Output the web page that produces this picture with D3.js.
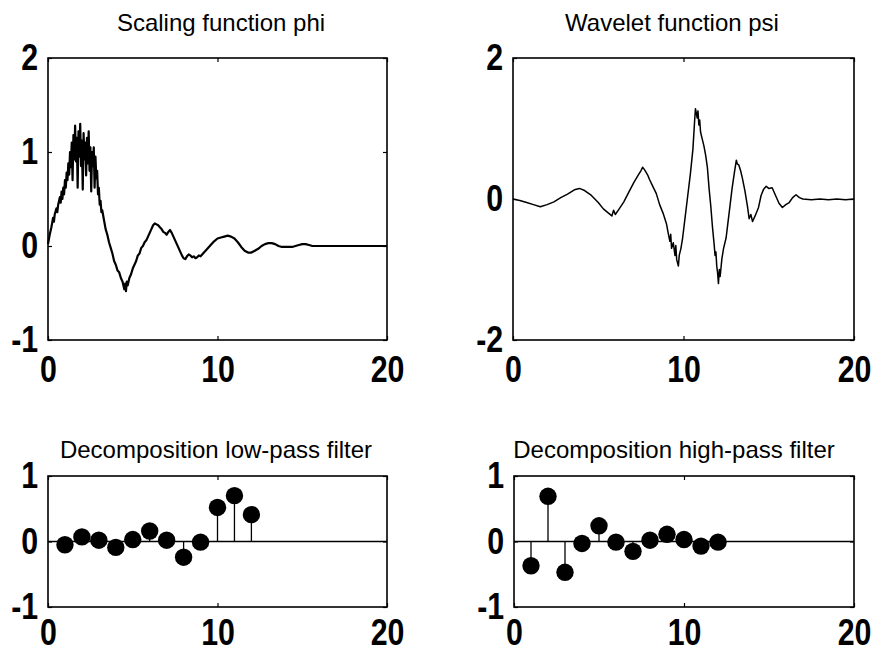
<!DOCTYPE html>
<html>
<head>
<meta charset="utf-8">
<script src="https://cdn.jsdelivr.net/npm/d3@7"></script>
<style>
  body { margin: 0; background: #fff; }
  .title { font-family: "Liberation Sans", Arial, sans-serif; font-size: 24px; fill: #000; }
  .lbl text { font-family: "Liberation Sans", Arial, sans-serif; font-weight: bold; font-size: 37px; fill: #000; }
  .tick line { stroke: #000; stroke-width: 1.2; }
</style>
</head>
<body>
<svg width="872" height="652"></svg>
<script>
// scaling function phi
const phiT = [0, 0.1, 0.2, 0.3, 0.35, 0.4, 0.5, 0.55, 0.6, 0.7, 0.75, 0.8, 0.85, 0.9, 0.95,
  1.0, 1.05, 1.1, 1.15, 1.2, 1.25, 1.3, 1.35, 1.4, 1.45, 1.5, 1.55, 1.6, 1.65, 1.7, 1.75,
  1.8, 1.85, 1.9, 1.95, 2.0, 2.05, 2.1, 2.15, 2.2, 2.25, 2.3, 2.35, 2.4, 2.45, 2.5, 2.55,
  2.6, 2.65, 2.7, 2.75, 2.8, 2.85, 2.9, 2.95, 3.0, 3.05, 3.1, 3.15, 3.2, 3.3, 3.4, 3.5,
  3.6, 3.7, 3.8, 3.9, 4.0, 4.1, 4.2, 4.3, 4.4, 4.5, 4.55, 4.6, 4.65, 4.7, 4.8, 4.9, 5.0,
  5.1, 5.2, 5.3, 5.4, 5.5, 5.6, 5.7, 5.8, 5.9, 6.0, 6.1, 6.2, 6.3, 6.4, 6.5, 6.6, 6.7,
  6.8, 6.9, 7.0, 7.1, 7.2, 7.3, 7.4, 7.5, 7.6, 7.7, 7.8, 7.9, 8.0, 8.1, 8.2, 8.3, 8.4,
  8.5, 8.6, 8.7, 8.8, 8.9, 9.0, 9.2, 9.4, 9.6, 9.8, 10.0, 10.2, 10.4, 10.6, 10.8, 11.0,
  11.2, 11.4, 11.6, 11.8, 12.0, 12.2, 12.4, 12.6, 12.8, 13.0, 13.2, 13.4, 13.6, 13.8,
  14.0, 14.4, 14.8, 15.0, 15.2, 15.4, 15.6, 16, 17, 18, 19, 20];
const phiV = [0.02, 0.12, 0.2, 0.3, 0.26, 0.34, 0.4, 0.36, 0.44, 0.52, 0.46, 0.58, 0.5, 0.62, 0.55,
  0.7, 0.62, 0.78, 0.7, 0.88, 0.76, 1.0, 0.84, 1.1, 0.7, 1.18, 0.92, 1.28, 0.9, 1.15, 0.62,
  1.22, 0.95, 1.3, 0.85, 1.12, 0.6, 1.2, 0.92, 1.1, 0.75, 1.15, 0.88, 1.22, 0.8, 1.05, 0.58,
  1.0, 0.85, 1.05, 0.62, 0.95, 0.72, 0.8, 0.55, 0.62, 0.44, 0.48, 0.36, 0.38, 0.28, 0.18, 0.12,
  0.04, -0.02, -0.08, -0.16, -0.2, -0.26, -0.28, -0.34, -0.38, -0.46, -0.4, -0.48, -0.38, -0.42, -0.34, -0.3, -0.24,
  -0.2, -0.16, -0.1, -0.08, -0.02, 0, 0.04, 0.06, 0.1, 0.14, 0.18, 0.22, 0.24, 0.23, 0.22, 0.2, 0.18,
  0.15, 0.14, 0.12, 0.15, 0.17, 0.14, 0.1, 0.06, 0.02, -0.02, -0.06, -0.1, -0.13, -0.14, -0.11, -0.09, -0.1,
  -0.12, -0.11, -0.13, -0.12, -0.1, -0.11, -0.07, -0.03, 0.01, 0.05, 0.08, 0.09, 0.1, 0.11, 0.1, 0.08,
  0.04, -0.01, -0.05, -0.07, -0.07, -0.05, -0.03, 0, 0.02, 0.03, 0.03, 0.02, 0, -0.01,
  -0.01, -0.01, 0.01, 0.02, 0.02, 0.01, 0, 0, 0, 0, 0, 0];

// wavelet function psi
const psiT = [0, 0.4, 0.8, 1.2, 1.6, 2.0, 2.4, 2.8, 3.2, 3.6, 3.9, 4.2, 4.6, 5.0, 5.3, 5.6, 5.8, 5.9,
  6.0, 6.2, 6.5, 6.8, 7.1, 7.3, 7.5, 7.6, 7.7, 7.8, 7.9, 8.0, 8.2, 8.4, 8.6, 8.8, 9.0, 9.1,
  9.2, 9.25, 9.3, 9.4, 9.5, 9.55, 9.6, 9.7, 9.75, 9.85, 9.95, 10.1, 10.25, 10.4, 10.55, 10.65,
  10.7, 10.75, 10.8, 10.85, 10.9, 10.95, 11.0, 11.1, 11.2, 11.3, 11.4, 11.5, 11.6, 11.7, 11.8,
  11.85, 11.9, 11.95, 12.0, 12.05, 12.1, 12.15, 12.25, 12.35, 12.5, 12.6, 12.7, 12.85, 13.0,
  13.1, 13.15, 13.25, 13.35, 13.45, 13.6, 13.75, 13.85, 13.95, 14.05, 14.2, 14.4, 14.55, 14.7,
  14.85, 15.0, 15.2, 15.4, 15.6, 15.8, 16.0, 16.2, 16.4, 16.6, 16.8, 17.0, 17.5, 18.0, 18.5,
  19.0, 19.5, 20];
const psiV = [0, -0.02, -0.05, -0.08, -0.11, -0.08, -0.04, 0.02, 0.07, 0.13, 0.15, 0.12, 0.05, -0.05, -0.14, -0.2, -0.24, -0.16,
  -0.22, -0.15, -0.04, 0.1, 0.24, 0.32, 0.4, 0.45, 0.42, 0.38, 0.34, 0.28, 0.18, 0.08, -0.08, -0.2, -0.35, -0.48,
  -0.6, -0.5, -0.7, -0.62, -0.8, -0.66, -0.86, -0.95, -0.8, -0.7, -0.55, -0.25, 0.05, 0.35, 0.7, 1.1,
  1.28, 1.22, 1.15, 1.25, 1.05, 1.12, 0.95, 0.85, 0.75, 0.62, 0.45, 0.15, -0.1, -0.4, -0.65,
  -0.8, -0.75, -0.95, -1.05, -1.2, -1.0, -1.1, -0.85, -0.7, -0.55, -0.35, -0.15, 0.15, 0.4,
  0.55, 0.5, 0.48, 0.4, 0.3, 0.12, -0.1, -0.28, -0.22, -0.32, -0.24, -0.12, 0.05, 0.14,
  0.18, 0.15, 0.16, 0.05, -0.06, -0.12, -0.08, -0.05, 0.02, 0.06, 0.02, 0, -0.01, 0, -0.01,
  0, -0.01, 0];

// decomposition filters
const lowN = [1, 2, 3, 4, 5, 6, 7, 8, 9, 10, 11, 12];
const lowV = [-0.05, 0.07, 0.02, -0.09, 0.03, 0.16, 0.02, -0.24, -0.01, 0.52, 0.70, 0.41];
const highN = [1, 2, 3, 4, 5, 6, 7, 8, 9, 10, 11, 12];
const highV = [-0.37, 0.69, -0.47, -0.03, 0.24, -0.01, -0.15, 0.02, 0.11, 0.03, -0.07, -0.01];

const xTicks = [0, 10, 20];
const titles = ['Scaling function phi', 'Wavelet function psi',
  'Decomposition low-pass filter', 'Decomposition high-pass filter'];

const svg = d3.select('svg');

function panel(box, yDomain, yTicks, xPad, title, titleX, titleY) {
  const x = d3.scaleLinear().domain([0, 20]).range([box.l, box.r]);
  const y = d3.scaleLinear().domain(yDomain).range([box.b, box.t]);
  const g = svg.append('g');

  const ax = g.append('g').attr('class', 'lbl')
    .attr('transform', `translate(0,${box.b})`)
    .call(d3.axisBottom(x).tickValues(xTicks).tickSize(-4).tickPadding(xPad).tickFormat(d3.format('d')));
  ax.select('.domain').remove();
  ax.selectAll('text').attr('transform', 'scale(0.82,1)');

  const ay = g.append('g').attr('class', 'lbl')
    .attr('transform', `translate(${box.l},0)`)
    .call(d3.axisLeft(y).tickValues(yTicks).tickSize(-4).tickPadding(12).tickFormat(d => d < 0 ? '-' + Math.abs(d) : d));
  ay.select('.domain').remove();
  ay.selectAll('text').attr('transform', 'scale(0.82,1)');

  g.append('g').attr('transform', `translate(0,${box.t})`)
    .call(d3.axisTop(x).tickValues(xTicks).tickSize(-4).tickFormat(''))
    .select('.domain').remove();
  g.append('g').attr('transform', `translate(${box.r},0)`)
    .call(d3.axisRight(y).tickValues(yTicks).tickSize(-4).tickFormat(''))
    .select('.domain').remove();

  g.append('rect')
    .attr('x', box.l).attr('y', box.t)
    .attr('width', box.r - box.l).attr('height', box.b - box.t)
    .attr('fill', 'none').attr('stroke', '#000').attr('stroke-width', 1.6);

  g.append('text').attr('class', 'title')
    .attr('x', titleX).attr('y', titleY)
    .attr('text-anchor', 'middle')
    .text(title);

  return { g, x, y };
}

function drawCurve(p, ts, vs, w) {
  const line = d3.line().x(i => p.x(ts[i])).y(i => p.y(vs[i]));
  p.g.append('path')
    .attr('d', line(d3.range(ts.length)))
    .attr('fill', 'none').attr('stroke', '#000')
    .attr('stroke-width', w).attr('stroke-linejoin', 'round');
}

function drawStems(p, ns, vs) {
  p.g.append('line')
    .attr('x1', p.x(0)).attr('x2', p.x(20))
    .attr('y1', p.y(0)).attr('y2', p.y(0))
    .attr('stroke', '#000').attr('stroke-width', 1.4);
  const s = p.g.selectAll('.stem').data(ns).enter().append('g');
  s.append('line')
    .attr('x1', (d) => p.x(d)).attr('x2', (d) => p.x(d))
    .attr('y1', p.y(0)).attr('y2', (d, i) => p.y(vs[i]))
    .attr('stroke', '#000').attr('stroke-width', 1.3);
  s.append('circle')
    .attr('cx', (d) => p.x(d)).attr('cy', (d, i) => p.y(vs[i]))
    .attr('r', 8.7).attr('fill', '#000');
}

const p1 = panel({ l: 48, r: 387, t: 58, b: 340 }, [-1, 2], [-1, 0, 1, 2], 16, titles[0], 221, 31);
drawCurve(p1, phiT, phiV, 2.2);

const p2 = panel({ l: 513, r: 854, t: 58, b: 340 }, [-2, 2], [-2, 0, 2], 16, titles[1], 672, 31);
drawCurve(p2, psiT, psiV, 1.5);

const p3 = panel({ l: 48, r: 387, t: 476, b: 607 }, [-1, 1], [-1, 0, 1], 12, titles[2], 216, 458);
drawStems(p3, lowN, lowV);

const p4 = panel({ l: 514, r: 854, t: 476, b: 607 }, [-1, 1], [-1, 0, 1], 12, titles[3], 674, 458);
drawStems(p4, highN, highV);
</script>
</body>
</html>
